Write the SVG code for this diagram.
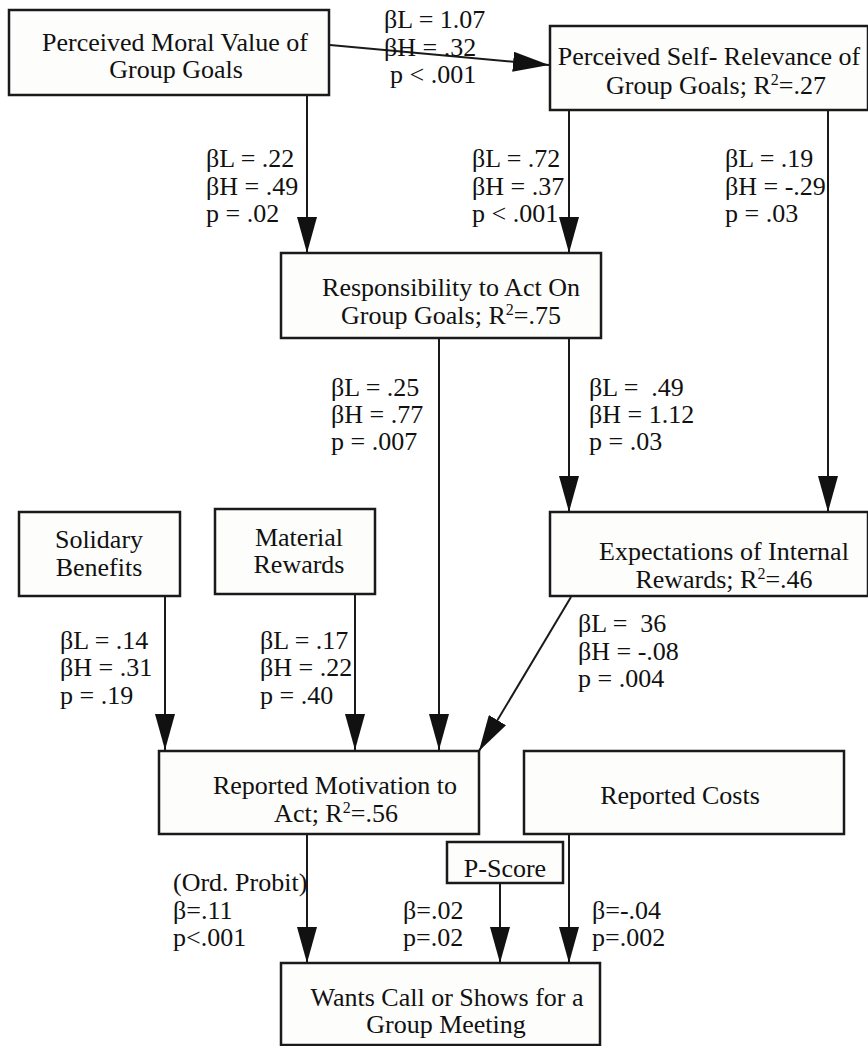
<svg xmlns="http://www.w3.org/2000/svg" width="868" height="1046" viewBox="0 0 868 1046">
<style>
text{font-family:"Liberation Serif","Times New Roman",serif;font-size:26px;fill:#111}
.box{fill:#fdfdfc;stroke:#1a1a1a;stroke-width:2.5}
.c{text-anchor:middle}
.sup{font-size:16px}
.edge{stroke:#1a1a1a;stroke-width:2;fill:none;marker-end:url(#ah)}
</style>
<defs>
<marker id="ah" viewBox="0 0 36 20" refX="36" refY="10" markerWidth="36" markerHeight="20" markerUnits="userSpaceOnUse" orient="auto">
<path d="M0,0 L36,10 L0,20 z" fill="#111"/>
</marker>
</defs>
<rect width="868" height="1046" fill="#fff"/>
<g id="connectors">
<line class="edge" x1="330" y1="45" x2="549" y2="65"/>
<line class="edge" x1="307" y1="95" x2="307" y2="253"/>
<line class="edge" x1="569" y1="110" x2="569" y2="253"/>
<line class="edge" x1="828" y1="110" x2="828" y2="512"/>
<line class="edge" x1="439" y1="338" x2="439" y2="750"/>
<line class="edge" x1="569" y1="338" x2="569" y2="512"/>
<line class="edge" x1="165" y1="596" x2="165" y2="750"/>
<line class="edge" x1="355" y1="594" x2="355" y2="750"/>
<line class="edge" x1="571" y1="597" x2="479" y2="751"/>
<line class="edge" x1="307" y1="834" x2="307" y2="963"/>
<line class="edge" x1="500" y1="883" x2="500" y2="963"/>
<line class="edge" x1="569" y1="834" x2="569" y2="963"/>
</g>
<g id="edge-labels">
<text x="384" y="28">βL = 1.07</text>
<text x="384" y="56">βH = .32</text>
<text x="390" y="83">p &lt; .001</text>
<text x="206" y="167">βL = .22</text>
<text x="206" y="195">βH = .49</text>
<text x="206" y="222">p = .02</text>
<text x="472" y="167">βL = .72</text>
<text x="472" y="195">βH = .37</text>
<text x="472" y="222">p &lt; .001</text>
<text x="725" y="167">βL = .19</text>
<text x="725" y="195">βH = -.29</text>
<text x="725" y="222">p = .03</text>
<text x="331" y="396">βL = .25</text>
<text x="331" y="423">βH = .77</text>
<text x="331" y="450">p = .007</text>
<text x="589" y="396" xml:space="preserve">βL =  .49</text>
<text x="589" y="423">βH = 1.12</text>
<text x="589" y="450">p = .03</text>
<text x="60" y="649">βL = .14</text>
<text x="60" y="676">βH = .31</text>
<text x="60" y="704">p = .19</text>
<text x="260" y="649">βL = .17</text>
<text x="260" y="676">βH = .22</text>
<text x="260" y="704">p = .40</text>
<text x="578" y="632" xml:space="preserve">βL =  36</text>
<text x="578" y="660">βH = -.08</text>
<text x="578" y="687">p = .004</text>
<text x="173" y="891">(Ord. Probit)</text>
<text x="173" y="919">β=.11</text>
<text x="173" y="946">p&lt;.001</text>
<text x="403" y="919">β=.02</text>
<text x="403" y="946">p=.02</text>
<text x="592" y="919">β=-.04</text>
<text x="592" y="946">p=.002</text>
</g>
<g id="n-moral">
<rect class="box" x="9" y="10" width="320" height="85"/>
<text class="c" x="175" y="51">Perceived Moral Value of</text>
<text class="c" x="176" y="78">Group Goals</text>
</g>
<g id="n-selfrel">
<rect class="box" x="550" y="26" width="318" height="84"/>
<text class="c" x="709" y="65">Perceived Self- Relevance of</text>
<text class="c" x="716" y="94">Group Goals; R<tspan class="sup" dy="-9">2</tspan><tspan dy="9">=.27</tspan></text>
</g>
<g id="n-resp">
<rect class="box" x="281" y="253" width="320" height="85"/>
<text class="c" x="451" y="296">Responsibility to Act On</text>
<text class="c" x="451" y="324">Group Goals; R<tspan class="sup" dy="-9">2</tspan><tspan dy="9">=.75</tspan></text>
</g>
<g id="n-solidary">
<rect class="box" x="19" y="512" width="161" height="84"/>
<text class="c" x="99" y="548">Solidary</text>
<text class="c" x="99" y="576">Benefits</text>
</g>
<g id="n-material">
<rect class="box" x="215" y="509" width="160" height="85"/>
<text class="c" x="299" y="546">Material</text>
<text class="c" x="299" y="573">Rewards</text>
</g>
<g id="n-expect">
<rect class="box" x="550" y="512" width="318" height="84"/>
<text class="c" x="724" y="560">Expectations of Internal</text>
<text class="c" x="724" y="588">Rewards; R<tspan class="sup" dy="-9">2</tspan><tspan dy="9">=.46</tspan></text>
</g>
<g id="n-motivation">
<rect class="box" x="159" y="751" width="320" height="83"/>
<text class="c" x="335" y="794">Reported Motivation to</text>
<text class="c" x="336" y="822">Act; R<tspan class="sup" dy="-9">2</tspan><tspan dy="9">=.56</tspan></text>
</g>
<g id="n-costs">
<rect class="box" x="524" y="751" width="320" height="83"/>
<text class="c" x="680" y="804">Reported Costs</text>
</g>
<g id="n-pscore">
<rect class="box" x="447" y="842" width="116" height="41"/>
<text class="c" x="505" y="877">P-Score</text>
</g>
<g id="n-wants">
<rect class="box" x="281" y="963" width="319" height="82"/>
<text class="c" x="447" y="1006">Wants Call or Shows for a</text>
<text class="c" x="446" y="1033">Group Meeting</text>
</g>
</svg>
